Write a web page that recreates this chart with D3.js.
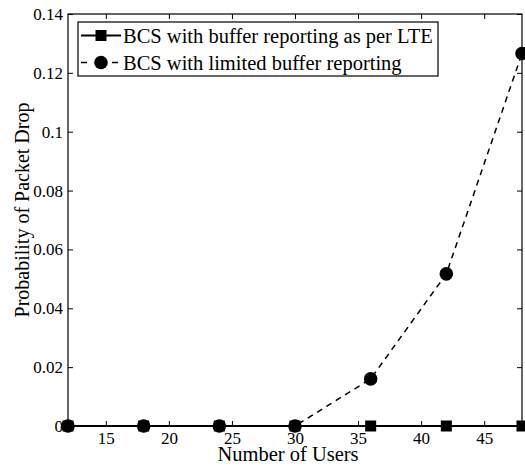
<!DOCTYPE html>
<html>
<head>
<meta charset="utf-8">
<script src="https://cdn.jsdelivr.net/npm/d3@7"></script>
<style>
  body { margin: 0; background: #fff; }
  text { font-family: "Liberation Serif", "Times New Roman", serif; fill: #000; }
</style>
</head>
<body>
<svg id="chart" width="525" height="466"></svg>
<script>
// data
var users = [12, 18, 24, 30, 36, 42, 48];
var lteDrop = [0, 0, 0, 0, 0, 0, 0];
var limitedDrop = [0, 0, 0, 0, 0.016, 0.0517, 0.1266];
var xTicks = [15, 20, 25, 30, 35, 40, 45];
var yTicks = [0, 0.02, 0.04, 0.06, 0.08, 0.1, 0.12, 0.14];
var seriesNames = ["BCS with buffer reporting as per LTE", "BCS with limited buffer reporting"];

(function() {
  var svg = d3.select("#chart");
  var pL = 68, pR = 522, pT = 14, pB = 426;
  var serif = "'Liberation Serif', 'Times New Roman', serif";

  var x = d3.scaleLinear().domain([12, 48]).range([pL, pR]);
  var y = d3.scaleLinear().domain([0, 0.14]).range([pB, pT]);

  // frame
  svg.append("rect")
    .attr("x", pL).attr("y", pT)
    .attr("width", pR - pL).attr("height", pB - pT)
    .attr("fill", "none").attr("stroke", "#000").attr("stroke-width", 1.2);

  // axes, ticks pointing inward
  var fmtY = function(d) { return d === 0 ? "0" : d3.format(".2~f")(d); };
  svg.append("g").attr("class", "ax").attr("transform", "translate(0," + pB + ")")
    .call(d3.axisBottom(x).tickValues(xTicks).tickSize(-5).tickPadding(6))
    .call(function(g) { g.select(".domain").remove(); });
  svg.append("g").attr("transform", "translate(0," + pT + ")")
    .call(d3.axisTop(x).tickValues(xTicks).tickSize(-5).tickFormat(""))
    .call(function(g) { g.select(".domain").remove(); });
  svg.append("g").attr("class", "ax").attr("transform", "translate(" + pL + ",0)")
    .call(d3.axisLeft(y).tickValues(yTicks).tickSize(-5).tickPadding(5).tickFormat(fmtY))
    .call(function(g) { g.select(".domain").remove(); });
  svg.append("g").attr("transform", "translate(" + pR + ",0)")
    .call(d3.axisRight(y).tickValues(yTicks).tickSize(-5).tickFormat(""))
    .call(function(g) { g.select(".domain").remove(); });

  svg.selectAll("g.ax").attr("font-family", serif).attr("font-size", 17);
  svg.selectAll(".tick line").attr("stroke", "#000").attr("stroke-width", 1);
  svg.selectAll(".tick text").attr("fill", "#000");

  // lines
  var line = function(vals) {
    return d3.line().x(function(d, i) { return x(users[i]); })
      .y(function(d) { return y(d); })(vals);
  };
  svg.append("path").attr("d", line(lteDrop))
    .attr("fill", "none").attr("stroke", "#000").attr("stroke-width", 2);
  svg.append("path").attr("d", line(limitedDrop))
    .attr("fill", "none").attr("stroke", "#000").attr("stroke-width", 1.5)
    .attr("stroke-dasharray", "6,5");

  // markers
  svg.selectAll(".sq").data(lteDrop).enter().append("rect")
    .attr("x", function(d, i) { return x(users[i]) - 5.5; })
    .attr("y", function(d) { return y(d) - 5.5; })
    .attr("width", 11).attr("height", 11).attr("fill", "#000");
  svg.selectAll(".ci").data(limitedDrop).enter().append("circle")
    .attr("cx", function(d, i) { return x(users[i]); })
    .attr("cy", function(d) { return y(d); })
    .attr("r", 6.8).attr("fill", "#000");

  // legend
  var lg = svg.append("g");
  lg.append("rect").attr("x", 78).attr("y", 22).attr("width", 360).attr("height", 54)
    .attr("fill", "#fff").attr("stroke", "#000").attr("stroke-width", 1.2);
  [0, 1].forEach(function(k) {
    var yy = 35.5 + k * 27;
    lg.append("line").attr("x1", 81).attr("x2", 121).attr("y1", yy).attr("y2", yy)
      .attr("stroke", "#000").attr("stroke-width", k === 0 ? 2 : 1.5)
      .attr("stroke-dasharray", k === 0 ? null : "6,25");
    if (k === 0) {
      lg.append("rect").attr("x", 95.5).attr("y", yy - 5.5).attr("width", 11).attr("height", 11).attr("fill", "#000");
    } else {
      lg.append("circle").attr("cx", 101).attr("cy", yy).attr("r", 6.8).attr("fill", "#000");
    }
    lg.append("text").attr("x", 123).attr("y", yy + 7)
      .style("font-size", "20.5px").text(seriesNames[k]);
  });

  // axis titles
  svg.append("text").attr("x", 288).attr("y", 461).attr("text-anchor", "middle")
    .style("font-size", "20.5px").text("Number of Users");
  svg.append("text").attr("transform", "translate(29,210) rotate(-90)")
    .attr("text-anchor", "middle").style("font-size", "20px")
    .text("Probability of Packet Drop");
})();
</script>
</body>
</html>
